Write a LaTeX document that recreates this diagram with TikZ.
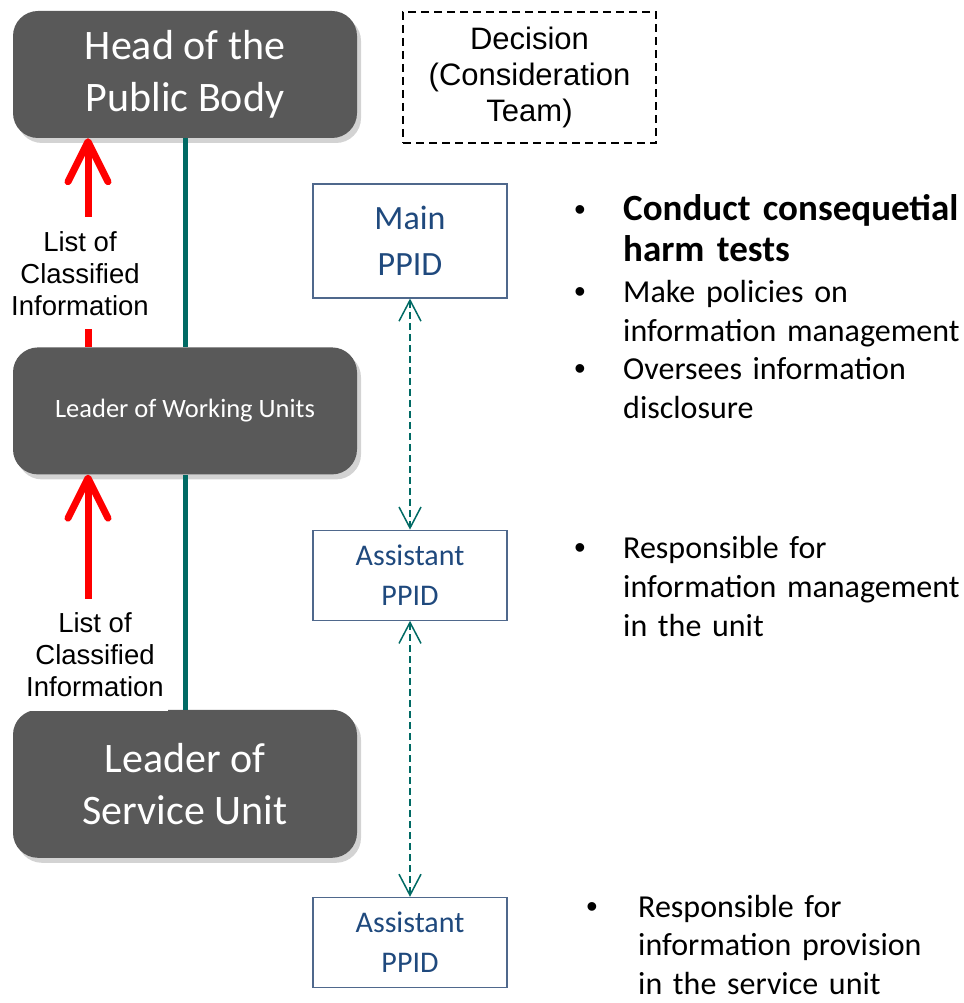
\documentclass[tikz,border=0pt]{standalone}
\usepackage{fontspec}
\setmainfont{Carlito}
\newfontfamily\arialfont{Liberation Sans}
\usetikzlibrary{positioning, arrows.meta, shadows}
\definecolor{boxgray}{RGB}{89,89,89}
\definecolor{linkteal}{RGB}{0,106,100}
\definecolor{ppidblue}{RGB}{31,73,125}
\definecolor{ppidframe}{RGB}{79,104,140}

\begin{document}
\begin{tikzpicture}[x=1pt, y=-1pt,
        leader/.style={fill=boxgray, rounded corners=25pt, text=white,
                       minimum width=344pt, minimum height=127pt, align=center,
                       font=\fontsize{42pt}{52pt}\selectfont,
                       drop shadow={shadow xshift=4pt, shadow yshift=-5pt, opacity=0.35}},
        ppid/.style={draw=ppidframe, line width=1.2pt, text=ppidblue,
                     minimum width=194pt, minimum height=90pt, align=center,
                     font=\fontsize{30pt}{40pt}\selectfont},
        decision/.style={draw, dash pattern=on 8pt off 5pt, line width=1.5pt,
                         minimum width=253pt, minimum height=131pt, align=center,
                         font=\arialfont\fontsize{31pt}{36pt}\selectfont},
        listlabel/.style={fill=white, align=center, inner xsep=4pt, inner ysep=14pt,
                          font=\arialfont\fontsize{27.5pt}{32pt}\selectfont},
        item/.style={anchor=base west, inner sep=0pt, text width=340pt, align=left,
                     font=\fontsize{32pt}{39pt}\selectfont},
        dot/.style={anchor=base, inner sep=0pt, font=\arialfont\fontsize{32pt}{39pt}\selectfont},
        uparrow/.style={draw=red, line width=7pt,
                        -{Straight Barb[length=40pt, width=40pt, round]}},
        orgline/.style={draw=linkteal, line width=5pt},
        duty/.style={draw=linkteal, line width=1.5pt, dash pattern=on 7pt off 4pt,
                     {Straight Barb[length=21pt, width=22pt]}-{Straight Barb[length=21pt, width=22pt]}}]
    \useasboundingbox (0,0) rectangle (963,1003);

    % leaders
    \node[leader] (head) at (185,74.5) {Head of the\\Public Body};
    \node[leader, below=209pt of head, font=\fontsize{26.5pt}{30pt}\selectfont] (work)
        {Leader of Working Units};
    \node[leader, below=235pt of work, minimum height=148pt] (service)
        {Leader of\\Service Unit};

    % PPID
    \node[ppid, minimum height=114pt, font=\fontsize{34pt}{46pt}\selectfont] (main)
        at (410,241) {Main\\PPID};
    \node[ppid, below=231pt of main] (asst) {Assistant\\PPID};
    \node[ppid, below=276pt of asst] (asstsvc) {Assistant\\PPID};

    \node[decision] (team) at (529.5,77.5) {Decision\\(Consideration\\Team)};

    % lines and arrows
    \draw[orgline] (head.south) -- (work.north);
    \draw[orgline] (work.south) -- (service.north);
    \draw[uparrow] ([xshift=-97pt]work.north) --
        node[listlabel, pos=0.354, xshift=-8pt] {List of\\Classified\\Information}
        ([xshift=-97pt]head.south);
    \draw[uparrow] ([xshift=-97pt]service.north) --
        node[listlabel, pos=0.234, xshift=7pt] {List of\\Classified\\Information}
        ([xshift=-97pt]work.south);
    \draw[duty] (main) -- (asst);
    \draw[duty] (asst) -- (asstsvc);

    % tasks
    \node[item, font=\bfseries\fontsize{37pt}{41pt}\selectfont] (harm) at (623,220)
        {Conduct consequetial\\harm tests};
    \node[item] (policy) at (623,302) {Make policies on\\information management};
    \node[item] (oversee) at (623,379) {Oversees information\\disclosure};
    \node[item] (unitjob) at (623,558) {Responsible for\\information management\\in the unit};
    \node[item, font=\fontsize{32pt}{38.5pt}\selectfont] (svcjob) at (638,917)
        {Responsible for\\information provision\\in the service unit};
    \node[dot, xshift=-43pt] at (harm.base west) {•};
    \node[dot, xshift=-43pt] at (policy.base west) {•};
    \node[dot, xshift=-43pt] at (oversee.base west) {•};
    \node[dot, xshift=-43pt] at (unitjob.base west) {•};
    \node[dot, xshift=-46pt] at (svcjob.base west) {•};
\end{tikzpicture}
\end{document}
